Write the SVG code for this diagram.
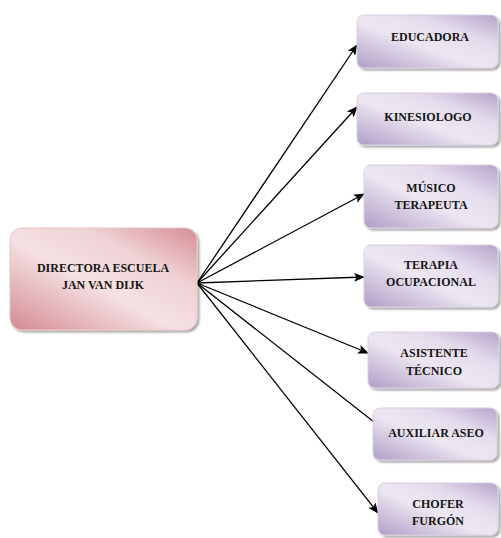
<svg xmlns="http://www.w3.org/2000/svg" width="501" height="538" viewBox="0 0 501 538">
<defs>
<linearGradient id="gp" x1="0" y1="1" x2="1" y2="0">
<stop offset="0" stop-color="#b09dc6"/>
<stop offset="0.45" stop-color="#ede7f2"/>
<stop offset="0.7" stop-color="#e4dcec"/>
<stop offset="1" stop-color="#b6a3ca"/>
</linearGradient>
<linearGradient id="gr" x1="0" y1="1" x2="1" y2="0">
<stop offset="0" stop-color="#d28a91"/>
<stop offset="0.45" stop-color="#f5e1e3"/>
<stop offset="0.7" stop-color="#efd2d5"/>
<stop offset="1" stop-color="#d48c93"/>
</linearGradient>
<filter id="sh" x="-10%" y="-10%" width="130%" height="130%">
<feDropShadow dx="2" dy="2" stdDeviation="1.2" flood-color="#000" flood-opacity="0.35"/>
</filter>
<marker id="ah" markerWidth="11" markerHeight="9" refX="10" refY="4.5" orient="auto" markerUnits="userSpaceOnUse">
<path d="M0,0 L11,4.5 L0,9 L2.5,4.5 Z" fill="#000"/>
</marker>
</defs>
<style>
.bp{fill:url(#gp);stroke:#d8cfe2;stroke-width:1;filter:url(#sh)}
.br{fill:url(#gr);stroke:#e8c4c8;stroke-width:1;filter:url(#sh)}
text{font-family:"Liberation Serif","DejaVu Serif",serif;font-weight:bold;font-size:12px;fill:#151515;text-anchor:middle}
.c{stroke:#000;stroke-width:1.3;fill:none;marker-end:url(#ah)}
</style>
<g id="connectors">
<line class="c" x1="197" y1="283" x2="357" y2="45"/>
<line class="c" x1="197" y1="283" x2="357" y2="107"/>
<line class="c" x1="197" y1="283" x2="364" y2="194"/>
<line class="c" x1="197" y1="283" x2="364" y2="277"/>
<line class="c" x1="197" y1="283" x2="368" y2="353"/>
<line class="c" x1="197" y1="283" x2="388" y2="433"/>
<line class="c" x1="197" y1="283" x2="378" y2="513"/>
</g>
<g id="director">
<rect class="br" x="10" y="228" width="187" height="102" rx="12"/>
<text x="103" y="272">DIRECTORA ESCUELA</text>
<text x="103" y="289">JAN VAN DIJK</text>
</g>
<g id="educadora">
<rect class="bp" x="357" y="15" width="141" height="53" rx="7"/>
<text x="430" y="41">EDUCADORA</text>
</g>
<g id="kinesiologo">
<rect class="bp" x="357" y="93" width="141" height="52" rx="7"/>
<text x="428" y="121">KINESIOLOGO</text>
</g>
<g id="musico">
<rect class="bp" x="364" y="165" width="134" height="63" rx="7"/>
<text x="431" y="192">MÚSICO</text>
<text x="431" y="209">TERAPEUTA</text>
</g>
<g id="terapia">
<rect class="bp" x="364" y="245" width="134" height="62" rx="7"/>
<text x="431" y="269">TERAPIA</text>
<text x="431" y="286">OCUPACIONAL</text>
</g>
<g id="asistente">
<rect class="bp" x="368" y="332" width="131" height="56" rx="7"/>
<text x="434" y="357">ASISTENTE</text>
<text x="434" y="375">TÉCNICO</text>
</g>
<g id="auxiliar">
<rect class="bp" x="373" y="408" width="124" height="52" rx="7"/>
<text x="436" y="437">AUXILIAR ASEO</text>
</g>
<g id="chofer">
<rect class="bp" x="378" y="483" width="120" height="52" rx="7"/>
<text x="438" y="508">CHOFER</text>
<text x="438" y="525">FURGÓN</text>
</g>
</svg>
